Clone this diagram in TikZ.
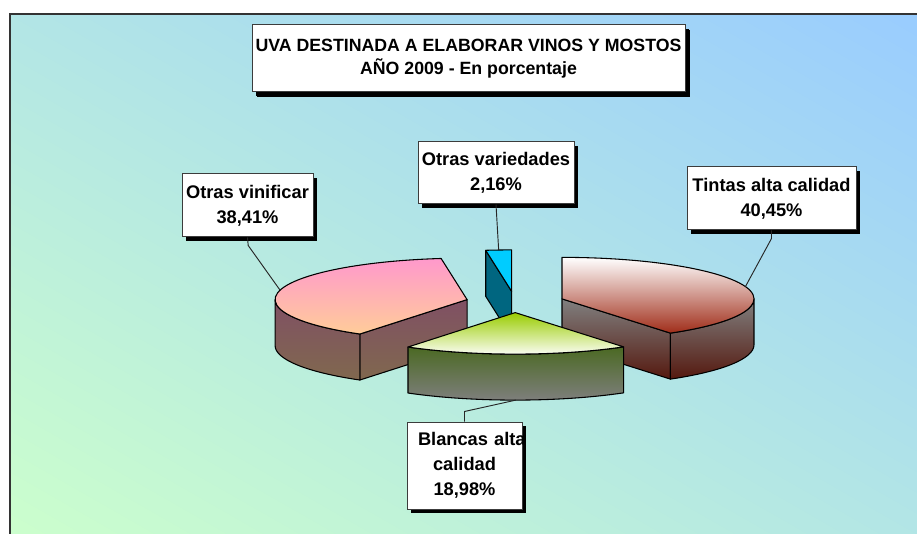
\documentclass[tikz,border=0pt]{standalone}
\usepackage{fontspec}
\setmainfont{Liberation Sans}
\usetikzlibrary{shadows,calc}

\definecolor{bgGreen}{RGB}{204,255,204}
\definecolor{bgBlue}{RGB}{153,204,255}
\definecolor{frameGray}{RGB}{51,51,51}
\definecolor{boxLine}{RGB}{60,60,60}
\definecolor{cyTop}{RGB}{0,204,255}
\definecolor{cySide}{RGB}{0,102,128}
\definecolor{tTopBot}{RGB}{160,45,25}
\definecolor{tSideTop}{RGB}{128,128,128}
\definecolor{tSideBot}{RGB}{85,25,15}
\definecolor{pTopTop}{RGB}{255,153,204}
\definecolor{pTopBot}{RGB}{255,204,153}
\definecolor{pSideTop}{RGB}{128,80,100}
\definecolor{pSideBot}{RGB}{128,104,78}
\definecolor{gTop}{RGB}{153,204,0}
\definecolor{gMid}{RGB}{238,246,222}
\definecolor{gSideTop}{RGB}{75,105,35}
\definecolor{gSideBot}{RGB}{128,128,128}

\tikzset{
  face/.style={draw=black, line width=0.8pt, line join=round},
  labelbox/.style={draw=boxLine, line width=0.75pt, fill=white, align=center,
    inner sep=0pt,
    font=\fontsize{13.7}{18.75}\selectfont\bfseries,
    drop shadow={shadow xshift=3pt, shadow yshift=-3pt, fill=black, opacity=1}},
  leader/.style={draw=black!85, line width=0.7pt},
}

\begin{document}
\begin{tikzpicture}[x=0.75pt,y=-0.75pt]
\useasboundingbox (0,0) rectangle (917,534);
\fill[white] (0,0) rectangle (917,534);

% background gradient
\begin{scope}
\clip (10,15) rectangle (917,534);
\foreach \i in {0,...,49}{
  \pgfmathsetmacro\xa{10+\i/25*907}
  \pgfmathsetmacro\xb{10+(\i+1.5)/25*907}
  \pgfmathtruncatemacro\p{2*\i+1}
  \fill[bgBlue!\p!bgGreen] (\xa,534) -- (\xb,534) -- (\xb-907,15) -- (\xa-907,15) -- cycle;
}
\end{scope}
\draw[line width=1.5pt, frameGray] (9.5,534) -- (9.5,14.5) -- (917,14.5);

% pie
\begin{scope}[shift={(515,302)}, y=0.75pt]
  \coordinate (pT) at (17.19:49.2 and 10.6);
  \coordinate (pB) at (270.215:49.2 and 10.6);
  \coordinate (pP) at (166.91:49.2 and 10.6);
  \coordinate (pV) at (93.885:49.2 and 10.6);

  % Otras variedades (back)
  \path[face, fill=cySide] (pV) -- ++(97.77:192 and 41.5) -- ++(0,-46) -- ($(pV)+(0,-46)$) -- cycle;
  \path[face, fill=cyTop] (pV) -- ++(90:192 and 41.5)
     arc[start angle=90, end angle=97.77, x radius=192, y radius=41.5] -- cycle;

  % Tintas alta calidad
  \path[face, top color=tSideTop, bottom color=tSideBot] (pT) -- ++(-55.62:192 and 41.5) -- ++(0,-46) -- ($(pT)+(0,-46)$) -- cycle;
  \path[face, top color=tSideTop, bottom color=tSideBot] ($(pT)+(-55.62:192 and 41.5)$)
     arc[start angle=-55.62, end angle=0, x radius=192, y radius=41.5] -- ++(0,-46)
     arc[start angle=0, end angle=-55.62, x radius=192, y radius=41.5] -- cycle;
  \path[face, top color=white, bottom color=tTopBot] (pT) -- ++(-55.62:192 and 41.5)
     arc[start angle=-55.62, end angle=90, x radius=192, y radius=41.5] -- cycle;

  % Otras vinificar
  \path[face, top color=pSideTop, bottom color=pSideBot] (pP) -- ++(236.05:192 and 41.5) -- ++(0,-46) -- ($(pP)+(0,-46)$) -- cycle;
  \path[face, top color=pSideTop, bottom color=pSideBot] ($(pP)+(180:192 and 41.5)$)
     arc[start angle=180, end angle=236.05, x radius=192, y radius=41.5] -- ++(0,-46)
     arc[start angle=236.05, end angle=180, x radius=192, y radius=41.5] -- cycle;
  \path[face, top color=pTopTop, bottom color=pTopBot] (pP) -- ++(97.77:192 and 41.5)
     arc[start angle=97.77, end angle=236.05, x radius=192, y radius=41.5] -- cycle;

  % Blancas alta calidad (front)
  \path[face, top color=gSideTop, bottom color=gSideBot] ($(pB)+(236.05:192 and 41.5)$)
     arc[start angle=236.05, end angle=304.38, x radius=192, y radius=41.5] -- ++(0,-46)
     arc[start angle=304.38, end angle=236.05, x radius=192, y radius=41.5] -- cycle;
  \path[face, top color=gTop, middle color=gMid, bottom color=white] (pB) -- ++(236.05:192 and 41.5)
     arc[start angle=236.05, end angle=304.38, x radius=192, y radius=41.5] -- cycle;

  % leader end points
  \coordinate (cP) at ($(pP)+(166.91:192 and 41.5)$);
  \coordinate (cT) at ($(pT)+(17.19:192 and 41.5)$);
  \coordinate (cV) at ($(pV)+(93.885:192 and 41.5)$);
  \coordinate (cB) at ($(pB)+(270.215:192 and 41.5)+(0,-46)$);
\end{scope}

% title
\node[labelbox, minimum width=324.75pt, minimum height=50.25pt,
      font=\fontsize{13.3}{17.1}\selectfont\bfseries,
      drop shadow={shadow xshift=3.75pt, shadow yshift=-3.75pt, fill=black, opacity=1}]
  (title) at (468.5,58.5) {UVA DESTINADA A ELABORAR VINOS Y MOSTOS\\AÑO 2009 - En porcentaje};

% labels
\node[labelbox, minimum width=98.25pt, minimum height=47.25pt] (vin) at (247.5,205.5)
  {Otras vinificar\\38,41\%};
\node[labelbox, minimum width=117pt, minimum height=46.5pt] (var) at (496,173)
  {Otras variedades\\2,16\%};
\node[labelbox, minimum width=126.75pt, minimum height=47.25pt] (tin) at (771.5,198.5)
  {Tintas alta calidad\\40,45\%};
\node[labelbox, text width=69.75pt, inner xsep=8.25pt, minimum height=65.25pt] (bla) at (464.5,465.5)
  {\mbox{Blancas alta}\\calidad\\18,98\%};

% leaders
\draw[leader] (vin.south) -- ++(0.7,8) -- (cP);
\draw[leader] (var.south) -- (cV);
\draw[leader] (tin.south) -- ++(0,8) -- (cT);
\draw[leader] (bla.north) -- ++(0,-10) -- (cB);
\end{tikzpicture}
\end{document}
